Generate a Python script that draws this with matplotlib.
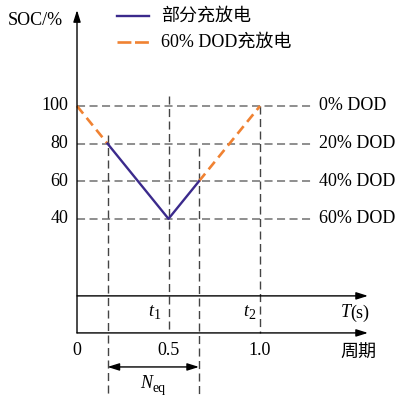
import matplotlib
matplotlib.use("Agg")
import matplotlib.pyplot as plt

plt.rcParams["font.family"] = ["Liberation Serif", "Noto Sans CJK SC"]
plt.rcParams["lines.scale_dashes"] = False

# SOC trajectory over one period
partial_x = [1 / 6, 0.5, 2 / 3]
partial_soc = [80, 40, 60]
full_x = [0, 1 / 6]
full_soc = [100, 80]
full_x2 = [2 / 3, 1.0]
full_soc2 = [60, 100]

soc_levels = [100, 80, 60, 40]
dod_labels = ["0% DOD", "20% DOD", "40% DOD", "60% DOD"]
period_ticks = [0, 0.5, 1.0]
period_labels = ["0", "0.5", "1.0"]
legend_labels = ["部分充放电", "60% DOD充放电"]

PURPLE = "#3b2a8c"
ORANGE = "#f08232"
GRID_H = "#707070"
GRID_V = "#444444"
FS = 13
SERIF = ["Liberation Serif"]

fig = plt.figure(figsize=(4.01, 3.95), dpi=100)
ax = fig.add_axes([0, 0, 1, 1])
ax.set_xlim(-0.4208, 1.7705)
ax.set_ylim(-53.72, 156.38)
ax.axis("off")

dash_grid = (0, (5.8, 3.2))

# horizontal reference levels with DOD labels
for lv, lab in zip(soc_levels, dod_labels):
    ax.plot([0, 1.284], [lv, lv], color=GRID_H, lw=1.1, linestyle=dash_grid, zorder=1)
    ax.text(1.322, lv, lab, fontsize=FS, ha="left", va="center", family=SERIF)
    ax.text(-0.049, lv, str(lv), fontsize=FS, ha="right", va="center", family=SERIF)

# vertical guide lines
ax.plot([1 / 6, 1 / 6], [84.6, -54], color=GRID_V, lw=1.0, linestyle=dash_grid, zorder=1)
ax.plot([0.5, 0.5], [105.3, -20.7], color=GRID_V, lw=1.0, linestyle=dash_grid, zorder=1)
ax.plot([2 / 3, 2 / 3], [77.7, -54], color=GRID_V, lw=1.0, linestyle=dash_grid, zorder=1)
ax.plot([1.0, 1.0], [100, -20.7], color=GRID_V, lw=1.0, linestyle=dash_grid, zorder=1)

# SOC curves
ax.plot(full_x, full_soc, color=ORANGE, lw=1.9, linestyle=(0, (7, 4)), zorder=3)
ax.plot(full_x2, full_soc2, color=ORANGE, lw=1.9, linestyle=(0, (7, 4)), zorder=3)
ax.plot(partial_x, partial_soc, color=PURPLE, lw=1.7, zorder=4)

# axes with arrows
arrow_kw = dict(arrowstyle="-|>,head_length=0.7,head_width=0.22", color="black", lw=1.0,
                shrinkA=0, shrinkB=0)
ax.annotate("", xy=(0, 151), xytext=(0, -20.7), arrowprops=arrow_kw, zorder=5)
ax.annotate("", xy=(1.59, -1.0), xytext=(0, -1.0), arrowprops=arrow_kw, zorder=5)
ax.annotate("", xy=(1.59, -20.7), xytext=(0, -20.7), arrowprops=arrow_kw, zorder=5)

# Neq span
ax.annotate("", xy=(1 / 6, -38.8), xytext=(2 / 3, -38.8),
            arrowprops=dict(arrowstyle="<|-|>,head_length=0.7,head_width=0.22",
                            color="black", lw=1.0, shrinkA=0, shrinkB=0), zorder=5)
ax.text(0.41, -47.6, "N", fontsize=FS, ha="right", va="center", family=SERIF, style="italic")
ax.text(0.41, -50.0, "eq", fontsize=10, ha="left", va="center", family=SERIF)

# axis labels and ticks
ax.text(-0.377, 145.7, "SOC/%", fontsize=FS, ha="left", va="center", family=SERIF)
for t, lab in zip(period_ticks, period_labels):
    ax.text(t, -29.8, lab, fontsize=FS, ha="center", va="center", family=SERIF)
ax.text(0.415, -9.3, "t", fontsize=FS, ha="right", va="center", family=SERIF, style="italic")
ax.text(0.417, -11.2, "1", fontsize=10, ha="left", va="center", family=SERIF)
ax.text(0.935, -9.3, "t", fontsize=FS, ha="right", va="center", family=SERIF, style="italic")
ax.text(0.937, -11.2, "2", fontsize=10, ha="left", va="center", family=SERIF)
ax.text(1.494, -10.1, "T", fontsize=FS, ha="right", va="center", family=SERIF, style="italic")
ax.text(1.494, -10.1, "(s)", fontsize=FS, ha="left", va="center", family=SERIF)
ax.text(1.536, -31.4, "周期", fontsize=FS, ha="center", va="center")

# legend
ax.plot([0.219, 0.393], [147.9, 147.9], color=PURPLE, lw=1.7)
ax.plot([0.219, 0.393], [134.0, 134.0], color=ORANGE, lw=1.9, linestyle=(0, (10, 2.6)))
ax.text(0.459, 147.9, legend_labels[0], fontsize=FS, ha="left", va="center")
ax.text(0.459, 134.0, legend_labels[1], fontsize=FS, ha="left", va="center")

fig.savefig("out.png", dpi=100, facecolor="white")
